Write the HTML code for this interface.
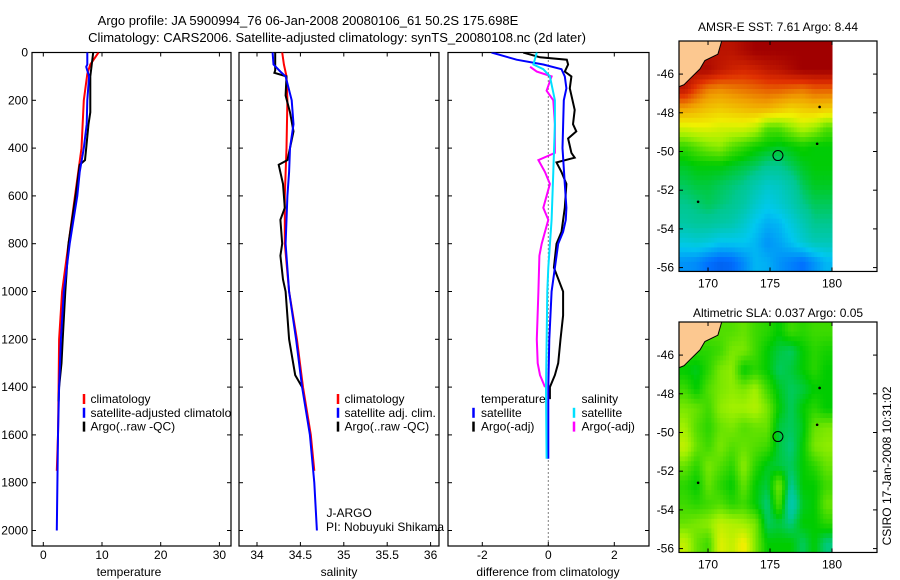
<!DOCTYPE html>
<html><head><meta charset="utf-8"><style>
html,body{margin:0;padding:0;background:#fff;}
svg{display:block;font-family:"Liberation Sans",sans-serif;}
</style></head><body>
<svg id="fig" width="900" height="580" viewBox="0 0 900 580" xmlns="http://www.w3.org/2000/svg">
<text x="308" y="25" font-size="13" text-anchor="middle">Argo profile: JA 5900994_76 06-Jan-2008 20080106_61 50.2S 175.698E</text>
<text x="337" y="42" font-size="13" text-anchor="middle">Climatology: CARS2006. Satellite-adjusted climatology: synTS_20080108.nc (2d later)</text>
<g id="layer"></g>
</svg>
<script>
// ---------- profile data ----------
const tClimDepth=[0,50,90,200,400,600,800,1000,1200,1400,1600,1750];
const tClimVal=[9.4,8.0,7.5,6.9,6.5,5.4,4.3,3.2,2.7,2.6,2.5,2.3];
const tSatDepth=[0,50,60,100,200,300,400,500,600,800,1000,1200,1400,1600,1800,2000];
const tSatVal=[7.5,7.5,7.3,7.8,7.5,7.4,6.9,6.2,5.8,4.5,3.5,3.0,2.7,2.5,2.4,2.3];
const tArgoDepth=[0,100,250,300,400,450,470,600,800,1000,1200,1300,1400,1460];
const tArgoVal=[8.5,8.0,8.0,7.7,7.3,7.1,6.2,5.5,4.3,3.75,3.3,3.1,2.7,2.6];
const sClimDepth=[0,50,100,200,400,600,800,1000,1200,1400,1600,1750];
const sClimVal=[34.29,34.31,34.34,34.35,34.34,34.32,34.32,34.37,34.46,34.53,34.62,34.66];
const sSatDepth=[0,50,80,100,200,300,400,500,600,800,1000,1200,1400,1600,1800,2000];
const sSatVal=[34.18,34.19,34.27,34.33,34.40,34.42,34.38,34.37,34.35,34.33,34.37,34.45,34.52,34.61,34.66,34.69];
const sArgoDepth=[0,75,85,100,180,250,330,400,450,470,550,650,700,800,850,950,1000,1200,1350,1400];
const sArgoVal=[34.21,34.21,34.20,34.34,34.33,34.38,34.42,34.38,34.35,34.25,34.30,34.32,34.27,34.29,34.27,34.30,34.33,34.37,34.44,34.52];
const dTSatDepth=[0,30,50,70,100,150,200,400,550,650,700,750,800,900,1000,1200,1400,1700];
const dTSatVal=[-1.72,-0.96,-0.15,0.4,0.5,0.55,0.47,0.43,0.5,0.55,0.53,0.45,0.3,0.2,0.1,0.03,0,0];
const dTArgoDepth=[0,20,30,50,80,100,150,240,300,330,360,420,440,460,500,550,650,750,800,900,1000,1100,1200,1300,1350,1400,1450];
const dTArgoVal=[-0.76,-0.25,0.56,0.6,0.5,0.7,0.65,0.8,0.75,0.85,0.6,0.7,0.8,0.25,0.4,0.55,0.5,0.4,0.25,0.17,0.45,0.45,0.37,0.3,0.2,0.05,0.05];
const dSSatDepth=[0,50,70,100,200,300,500,700,900,1000,1400,1700];
const dSSatVal=[-0.35,-0.45,-0.15,0.05,0.2,0.2,0.15,0.1,0,-0.03,-0.07,-0.05];
const dSArgoDepth=[60,80,100,160,200,300,420,450,500,550,650,700,800,850,1000,1200,1300,1350,1400];
const dSArgoVal=[-0.55,-0.35,0.1,-0.05,0.15,0.2,0.2,-0.3,-0.1,0.05,-0.15,0,-0.2,-0.27,-0.3,-0.35,-0.32,-0.25,-0.1];
const depthTicks=[0,200,400,600,800,1000,1200,1400,1600,1800,2000];
const tempTicks=[0,10,20,30];
const salTicks=[34,34.5,35,35.5,36];
const salTickLabels=["34","34.5","35","35.5","36"];
const diffTicks=[-2,0,2];
// ---------- map data (rows top->bottom, 13 cols west->east; null = land) ----------
const sstGrid=[
[null,null,null,null,11.6,11.8,12,12,12,12,12,12,12],
[null,null,11.8,11.5,11.3,11.2,11.3,11.5,11.6,11.8,12,12,12],
[11.5,10.8,10.3,10.2,10.3,10.4,10.5,10.6,10.6,10.5,10.4,10.6,10.6],
[10,9.8,9.6,9.5,9.6,9.7,9.8,9.8,9.6,9.4,9.5,9.6,9.5],
[8.8,8.9,8.9,8.8,8.8,8.8,8.6,8.0,8.0,8.3,8.6,8.4,8.0],
[7.8,8.0,8.2,8.3,8.0,7.8,7.6,7.5,7.4,7.5,7.6,7.5,7.5],
[7.4,7.5,7.5,7.5,7.4,7.3,7.2,7.0,7.0,7.2,7.4,7.5,7.5],
[7.2,7.3,7.3,7.2,7.1,7.0,6.7,6.4,6.5,6.8,7.2,7.4,7.4],
[7.0,7.1,7.2,7.1,7.0,6.8,6.4,6.1,6.3,6.6,7.0,7.2,7.2],
[6.8,6.9,6.9,6.8,6.7,6.4,6.0,5.7,5.8,6.2,6.6,7.0,7.0],
[6.2,6.3,6.2,6.0,6.0,6.0,5.8,5.4,5.6,5.9,6.3,6.6,6.6],
[5.4,5.3,5.0,4.8,4.9,5.3,5.8,5.7,5.4,5.2,5.0,5.4,5.8]];
const slaGrid=[
[null,null,null,null,0.04,0.05,0.03,0.02,0.0,0.03,0.02,0.03,0.03],
[null,null,0.02,0.03,0.06,0.06,0.03,0.0,-0.02,-0.03,0.0,0.02,0.01],
[0.0,-0.01,0.02,0.06,0.07,0.0,0.02,0.0,-0.03,-0.02,0.0,0.02,0.0],
[0.03,0.0,0.04,0.06,0.07,0.06,0.08,0.03,-0.01,-0.03,-0.02,0.0,0.0],
[0.06,0.05,0.03,0.07,0.08,0.08,0.09,0.06,0.0,-0.03,0.0,0.02,0.0],
[0.08,0.04,0.02,0.05,0.06,0.04,0.05,0.05,-0.02,-0.03,-0.01,0.05,0.06],
[0.1,0.05,0.03,0.06,0.04,0.05,0.04,0.03,-0.02,-0.04,0.0,0.06,0.07],
[0.05,0.02,0.06,0.04,0.02,0.07,0.02,-0.01,-0.02,-0.03,0.0,0.02,0.05],
[0.02,0.0,0.05,0.02,0.0,0.05,0.0,-0.02,0.06,-0.05,0.0,0.0,0.03],
[0.03,0.02,0.03,0.04,0.02,0.03,0.0,-0.04,0.04,-0.08,-0.01,0.0,0.05],
[0.05,0.06,0.07,0.1,0.09,0.08,0.06,-0.03,-0.02,-0.04,0.0,0.0,0.02],
[0.1,0.05,0.03,0.12,0.1,0.14,0.06,0.0,0.0,0.0,-0.03,0.0,-0.04]];
const landLon=[167.66,171.1,170.8,169.75,169.35,168.55,168.06,167.66];
const landLat=[-44.29,-44.29,-44.97,-45.3,-45.73,-46.24,-46.55,-46.65];
const floatLon=[175.64], floatLat=[-50.21];
const dotLon=[169.2,179.0,178.8], dotLat=[-52.6,-47.7,-49.6];
const lonTicks=[170,175,180];
const latTicks=[-46,-48,-50,-52,-54,-56];

const NS="http://www.w3.org/2000/svg";
const L=document.getElementById('layer');
function mk(tag,attrs,parent){const e=document.createElementNS(NS,tag);for(const k in attrs)e.setAttribute(k,attrs[k]);(parent||L).appendChild(e);return e;}

// ---------- axis functions ----------
const yD=d=>52.5+d*0.239;
const PB=546, PT=52.5;
const xT=v=>43.3+v*5.87;
const xS=v=>257+(v-34)*86.8;
const xDf=v=>548.3+v*33;

const panels=[{x0:32,x1:231,name:'temperature-panel'},{x0:239,x1:439,name:'salinity-panel'},{x0:448,x1:649,name:'difference-panel'}];
panels.forEach((p,i)=>{
  const cp=mk('clipPath',{id:'clip'+i});
  mk('rect',{x:p.x0,y:PT,width:p.x1-p.x0,height:PB-PT},cp);
});

function line(xs,ds,xf,color,name,clip,w){
  const pts=xs.map((v,i)=>xf(v).toFixed(1)+','+yD(ds[i]).toFixed(1)).join(' ');
  const e=mk('polyline',{points:pts,fill:'none',stroke:color,'stroke-width':w||2,'clip-path':'url(#clip'+clip+')'});
  
  
}
function txt(x,y,s,opts,parent){const e=mk('text',Object.assign({x:x,y:y,'font-size':12},opts||{}),parent);e.textContent=s;return e;}

panels.forEach((p,i)=>{
  const f=mk('rect',{x:p.x0,y:PT,width:p.x1-p.x0,height:PB-PT,fill:'none',stroke:'#000','stroke-width':1.2});
  
  
  depthTicks.forEach(d=>{
    mk('line',{x1:p.x0,x2:p.x0+4,y1:yD(d),y2:yD(d),stroke:'#000'});
    mk('line',{x1:p.x1-4,x2:p.x1,y1:yD(d),y2:yD(d),stroke:'#000'});
  });
});
depthTicks.forEach(d=>{
  const e=txt(28,yD(d)+4,String(d),{'text-anchor':'end'});
  
  
});
function xticks(ticks,labels,xf){
  ticks.forEach((t,i)=>{
    const x=xf(t);
    mk('line',{x1:x,x2:x,y1:PB,y2:PB-4,stroke:'#000'});
    mk('line',{x1:x,x2:x,y1:PT,y2:PT+4,stroke:'#000'});
    const e=txt(x,559,labels[i],{'text-anchor':'middle'});
    
    
  });
}
xticks(tempTicks,tempTicks.map(String),xT);
xticks(salTicks,salTickLabels,xS);
xticks(diffTicks,diffTicks.map(String),xDf);
[[129,'temperature'],[339,'salinity'],[548,'difference from climatology']].forEach(a=>{
  const e=txt(a[0],576,a[1],{'text-anchor':'middle'});
  
  
});

const z=mk('line',{x1:xDf(0),x2:xDf(0),y1:PT,y2:PB,stroke:'#000','stroke-dasharray':'1,3'});



line(tClimVal,tClimDepth,xT,'#ff0000','temp-climatology-line',0);
line(tArgoVal,tArgoDepth,xT,'#000000','temp-argo-line',0);
line(tSatVal,tSatDepth,xT,'#0000ff','temp-satellite-line',0);
line(sClimVal,sClimDepth,xS,'#ff0000','sal-climatology-line',1);
line(sArgoVal,sArgoDepth,xS,'#000000','sal-argo-line',1);
line(sSatVal,sSatDepth,xS,'#0000ff','sal-satellite-line',1);
line(dTArgoVal,dTArgoDepth,xDf,'#000000','diff-temp-argo-line',2);
line(dSArgoVal,dSArgoDepth,xDf,'#ff00ff','diff-sal-argo-line',2);
line(dTSatVal,dTSatDepth,xDf,'#0000ff','diff-temp-satellite-line',2);
line(dSSatVal,dSSatDepth,xDf,'#00e0ff','diff-sal-satellite-line',2);

function legend(mx,tx,y0,items,clip,name){
  const g=mk('g',{'clip-path':'url(#clip'+clip+')'});
  
  
  items.forEach((it,i)=>{
    const y=y0+i*13.8;
    if(it[1]) mk('line',{x1:mx,x2:mx,y1:y-5,y2:y+5,stroke:it[1],'stroke-width':2.5},g);
    txt(tx,y+4,it[0],{},g);
  });
}
legend(84,90.5,399,[['climatology','#ff0000'],['satellite-adjusted climatology','#0000ff'],['Argo(..raw -QC)','#000']],0,'temp-legend');
legend(338,344.5,399,[['climatology','#ff0000'],['satellite adj. clim.','#0000ff'],['Argo(..raw -QC)','#000']],1,'sal-legend');
legend(473.5,481,399,[['temperature',null],['satellite','#0000ff'],['Argo(-adj)','#000']],2,'diff-temp-legend');
legend(574,581.5,399,[['salinity',null],['satellite','#00e0ff'],['Argo(-adj)','#ff00ff']],2,'diff-sal-legend');
const cpj=mk('clipPath',{id:'clipj'});mk('rect',{x:239,y:PT,width:208,height:PB-PT},cpj);
const jg=mk('g',{'clip-path':'url(#clipj)'});


txt(326.5,517,'J-ARGO',{},jg);txt(326,531,'PI: Nobuyuki Shikama',{},jg);

// ---------- maps ----------
const stops=[[0,[0,48,192]],[0.125,[0,112,255]],[0.25,[0,200,240]],[0.375,[0,200,144]],[0.44,[0,204,0]],[0.55,[160,240,0]],[0.625,[240,240,0]],[0.75,[240,160,0]],[0.875,[224,48,0]],[1,[160,0,0]]];
function cmap(t){t=Math.max(0,Math.min(1,t));for(let i=1;i<stops.length;i++){if(t<=stops[i][0]){const a=stops[i-1],b=stops[i],f=(t-a[0])/(b[0]-a[0]);return 'rgb('+a[1].map((c,k)=>Math.round(c+(b[1][k]-c)*f)).join(',')+')';}}return 'rgb(160,0,0)';}
const LON0=167.66,LON1=180,LAT0=-44.29,LAT1=-56.2;
function fillNulls(grid){
  return grid.map((row,r)=>row.map((v,c)=>{
    if(v!==null) return v;
    for(let k=c+1;k<row.length;k++) if(row[k]!==null) return row[k];
    return grid[r+1][c];
  }));
}
function sample(g,fr,fc){
  const nr=g.length,nc=g[0].length;
  fr=Math.max(0,Math.min(nr-1,fr));fc=Math.max(0,Math.min(nc-1,fc));
  const r0=Math.floor(fr),c0=Math.floor(fc),r1=Math.min(nr-1,r0+1),c1=Math.min(nc-1,c0+1),a=fr-r0,b=fc-c0;
  return g[r0][c0]*(1-a)*(1-b)+g[r0][c1]*(1-a)*b+g[r1][c0]*a*(1-b)+g[r1][c1]*a*b;
}
function drawMap(top,grid,tf,name,title,titleY){
  const SY=19.35;
  const fx0=679,fx1=877,fy1=top+(LAT0-LAT1)*SY;
  const xL=lon=>fx0+(lon-LON0)*12.4;
  const yL=lat=>top+(LAT0-lat)*SY;
  const g=mk('g',{});
  
  
  const full=fillNulls(grid);
  const nr=grid.length,nc=grid[0].length,S=4;
  const dlon=(LON1-LON0)/(nc*S),dlat=(LAT0-LAT1)/(nr*S);
  for(let r=0;r<nr*S;r++)for(let c=0;c<nc*S;c++){
    const v=sample(full,(r+0.5)/S-0.5,(c+0.5)/S-0.5);
    const x=xL(LON0+c*dlon),y=yL(LAT0-r*dlat);
    const e=mk('rect',{x:x.toFixed(2),y:y.toFixed(2),width:(dlon*12.4+0.5).toFixed(2),height:(dlat*SY+0.5).toFixed(2),fill:cmap(tf(v))},g);
    
    
  }
  const land=mk('polygon',{points:landLon.map((lo,i)=>xL(lo).toFixed(1)+','+yL(landLat[i]).toFixed(1)).join(' '),fill:'#fcc890',stroke:'#000','stroke-width':1},g);
  
  
  dotLon.forEach((lo,i)=>mk('circle',{cx:xL(lo),cy:yL(dotLat[i]),r:1.3,fill:'#000'},g));
  floatLon.forEach((lo,i)=>{
    const c=mk('circle',{cx:xL(lo),cy:yL(floatLat[i]),r:5,fill:'none',stroke:'#000','stroke-width':1},g);
    
    
  });
  const fr=mk('rect',{x:fx0,y:top,width:fx1-fx0,height:fy1-top,fill:'none',stroke:'#000','stroke-width':1.2},g);
  
  
  lonTicks.forEach(t=>{const x=xL(t);mk('line',{x1:x,x2:x,y1:fy1,y2:fy1-4,stroke:'#000'},g);mk('line',{x1:x,x2:x,y1:top,y2:top+4,stroke:'#000'},g);
    const e=txt(x,fy1+16,String(t),{'text-anchor':'middle'},g);});
  latTicks.forEach(t=>{const y=yL(t);mk('line',{x1:fx0,x2:fx0+4,y1:y,y2:y,stroke:'#000'},g);mk('line',{x1:fx1-4,x2:fx1,y1:y,y2:y,stroke:'#000'},g);
    const e=txt(674,y+4,String(t),{'text-anchor':'end'},g);});
  const tt=txt(778,titleY,title,{'text-anchor':'middle'},g);
  
  
}
drawMap(41,sstGrid,v=>(v-4)/8,'sst-map','AMSR-E SST: 7.61 Argo: 8.44',31);
drawMap(322,slaGrid,v=>0.44+v*1.4,'sla-map','Altimetric SLA: 0.037 Argo: 0.05',317);
const cs=txt(0,0,'CSIRO 17-Jan-2008 10:31:02',{'text-anchor':'middle',transform:'translate(891,466) rotate(-90)'});


</script>
</body></html>
